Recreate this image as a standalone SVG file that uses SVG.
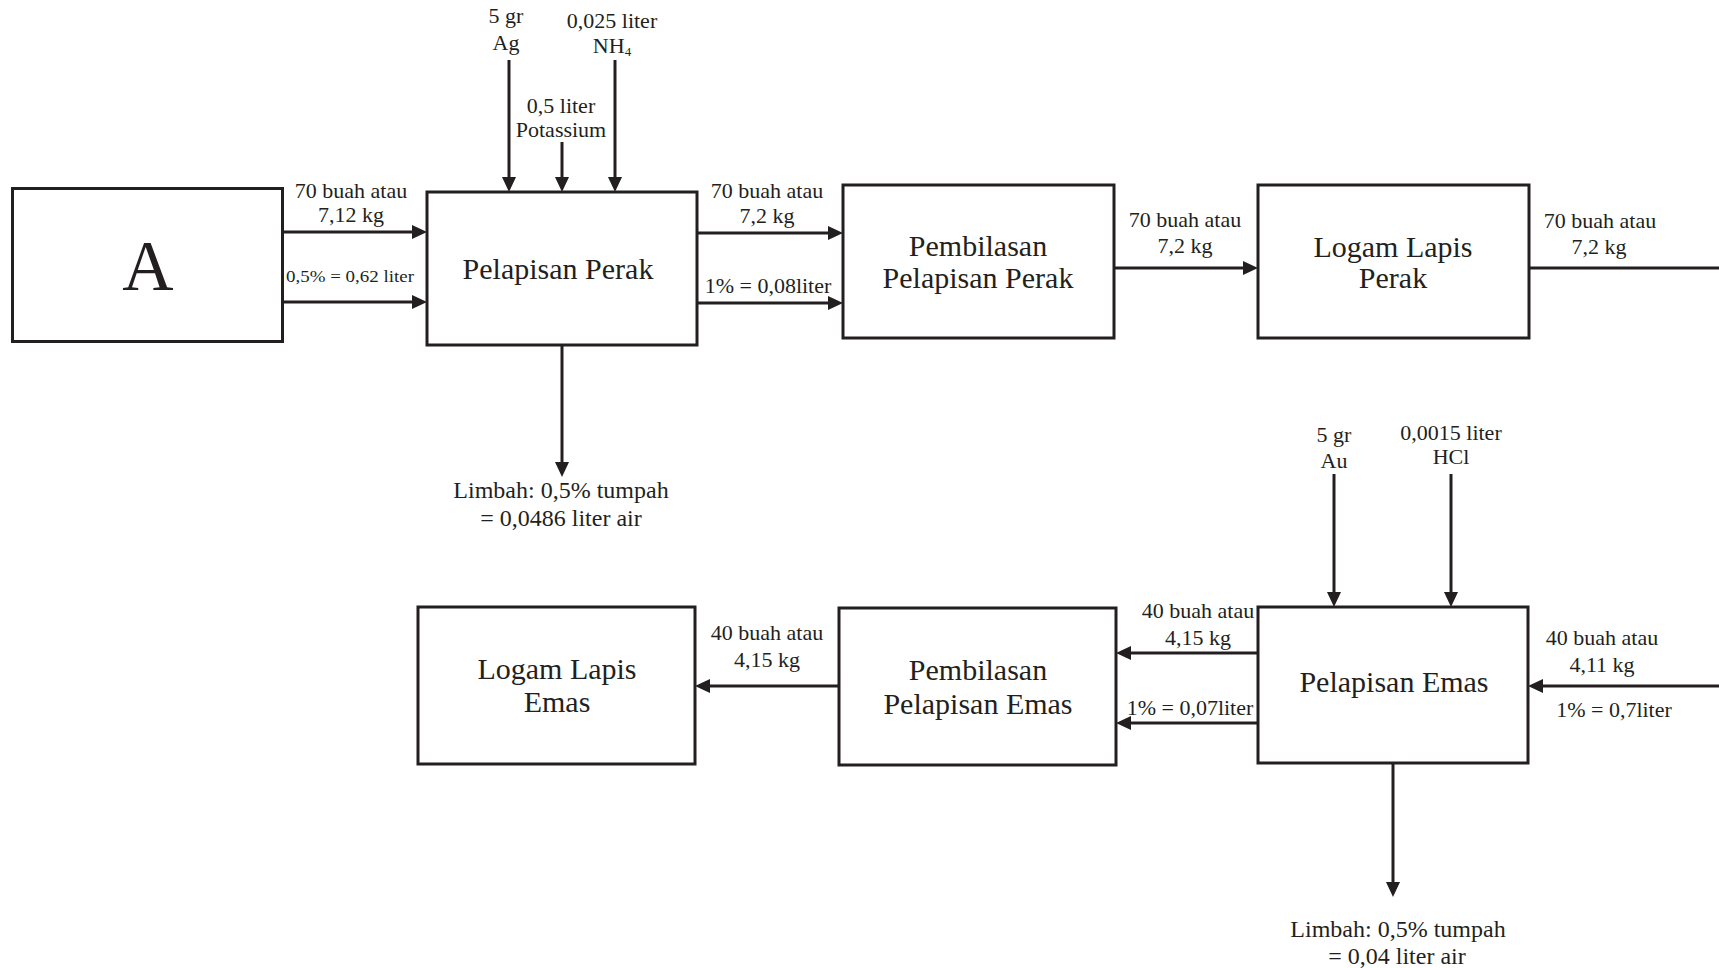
<svg xmlns="http://www.w3.org/2000/svg" width="1719" height="968" viewBox="0 0 1719 968">
<defs>
<marker id="ah" viewBox="0 0 15 14" refX="7" refY="7" markerWidth="15" markerHeight="14" markerUnits="userSpaceOnUse" orient="auto">
<path d="M0,0 L15,7 L0,14 z" fill="#231f20"/>
</marker>
</defs>
<style>
.box{fill:#fff;stroke:#231f20;stroke-width:3}
.ln{stroke:#231f20;stroke-width:3;fill:none}
.ar{marker-end:url(#ah)}
text{font-family:"Liberation Serif","Times New Roman",serif;fill:#231f20;text-anchor:middle}
.lb{font-size:22px}
.bt{font-size:30px}
.lm{font-size:24px}
.sm{font-size:16px}
</style>
<rect width="1719" height="968" fill="#fff"/>
<g id="connectors">
<line class="ln ar" x1="283" y1="232" x2="419" y2="232"/>
<line class="ln ar" x1="283" y1="302" x2="419" y2="302"/>
<line class="ln ar" x1="509" y1="60" x2="509" y2="184"/>
<line class="ln ar" x1="562" y1="142" x2="562" y2="184"/>
<line class="ln ar" x1="615" y1="60" x2="615" y2="184"/>
<line class="ln ar" x1="697" y1="233" x2="835" y2="233"/>
<line class="ln ar" x1="697" y1="303" x2="835" y2="303"/>
<line class="ln ar" x1="562" y1="345" x2="562" y2="469"/>
<line class="ln ar" x1="1114" y1="268" x2="1250" y2="268"/>
<line class="ln" x1="1529" y1="268" x2="1719" y2="268"/>
<line class="ln ar" x1="1334" y1="474" x2="1334" y2="599"/>
<line class="ln ar" x1="1451" y1="474" x2="1451" y2="599"/>
<line class="ln ar" x1="1719" y1="686" x2="1536" y2="686"/>
<line class="ln ar" x1="1258" y1="653" x2="1124" y2="653"/>
<line class="ln ar" x1="1258" y1="723" x2="1124" y2="723"/>
<line class="ln ar" x1="839" y1="686" x2="703" y2="686"/>
<line class="ln ar" x1="1393" y1="763" x2="1393" y2="889"/>
</g>
<g id="nodeA">
<rect class="box" x="12.5" y="188.5" width="270" height="153"/>
<text x="148" y="290" style="font-size:71px">A</text>
</g>
<g id="pelapisanPerak">
<rect class="box" x="427" y="192" width="270" height="153"/>
<text class="bt" x="558" y="279">Pelapisan Perak</text>
</g>
<g id="pembilasanPerak">
<rect class="box" x="843" y="185" width="271" height="153"/>
<text class="bt" x="978" y="256">Pembilasan</text>
<text class="bt" x="978" y="288">Pelapisan Perak</text>
</g>
<g id="logamLapisPerak">
<rect class="box" x="1258" y="185" width="271" height="153"/>
<text class="bt" x="1393" y="257">Logam Lapis</text>
<text class="bt" x="1393" y="288">Perak</text>
</g>
<g id="logamLapisEmas">
<rect class="box" x="418" y="607" width="277" height="157"/>
<text class="bt" x="557" y="679">Logam Lapis</text>
<text class="bt" x="557" y="712">Emas</text>
</g>
<g id="pembilasanEmas">
<rect class="box" x="839" y="608" width="277" height="157"/>
<text class="bt" x="978" y="680">Pembilasan</text>
<text class="bt" x="978" y="714">Pelapisan Emas</text>
</g>
<g id="pelapisanEmas">
<rect class="box" x="1258" y="607" width="270" height="156"/>
<text class="bt" x="1394" y="692">Pelapisan Emas</text>
</g>
<g id="labels">
<text class="lb" x="506" y="23">5 gr</text>
<text class="lb" x="506" y="50">Ag</text>
<text class="lb" x="612" y="28">0,025 liter</text>
<text class="lb" x="612" y="53">NH<tspan style="font-size:13px" dy="3">4</tspan></text>
<text class="lb" x="561" y="113">0,5 liter</text>
<text class="lb" x="561" y="137">Potassium</text>
<text class="lb" x="351" y="198">70 buah atau</text>
<text class="lb" x="351" y="222">7,12 kg</text>
<text class="sm" x="350" y="282" textLength="128" lengthAdjust="spacingAndGlyphs">0,5% = 0,62 liter</text>
<text class="lb" x="767" y="198">70 buah atau</text>
<text class="lb" x="767" y="223">7,2 kg</text>
<text class="lb" x="768" y="293">1% = 0,08liter</text>
<text class="lm" x="561" y="498">Limbah: 0,5% tumpah</text>
<text class="lm" x="561" y="526">= 0,0486 liter air</text>
<text class="lb" x="1185" y="227">70 buah atau</text>
<text class="lb" x="1185" y="253">7,2 kg</text>
<text class="lb" x="1600" y="228">70 buah atau</text>
<text class="lb" x="1599" y="254">7,2 kg</text>
<text class="lb" x="1334" y="442">5 gr</text>
<text class="lb" x="1334" y="468">Au</text>
<text class="lb" x="1451" y="440">0,0015 liter</text>
<text class="lb" x="1451" y="464">HCl</text>
<text class="lb" x="1198" y="618">40 buah atau</text>
<text class="lb" x="1198" y="645">4,15 kg</text>
<text class="lb" x="1190" y="715">1% = 0,07liter</text>
<text class="lb" x="1602" y="645">40 buah atau</text>
<text class="lb" x="1602" y="672">4,11 kg</text>
<text class="lb" x="1614" y="717">1% = 0,7liter</text>
<text class="lb" x="767" y="640">40 buah atau</text>
<text class="lb" x="767" y="667">4,15 kg</text>
<text class="lm" x="1398" y="937">Limbah: 0,5% tumpah</text>
<text class="lm" x="1397" y="964">= 0,04 liter air</text>
</g>
</svg>
